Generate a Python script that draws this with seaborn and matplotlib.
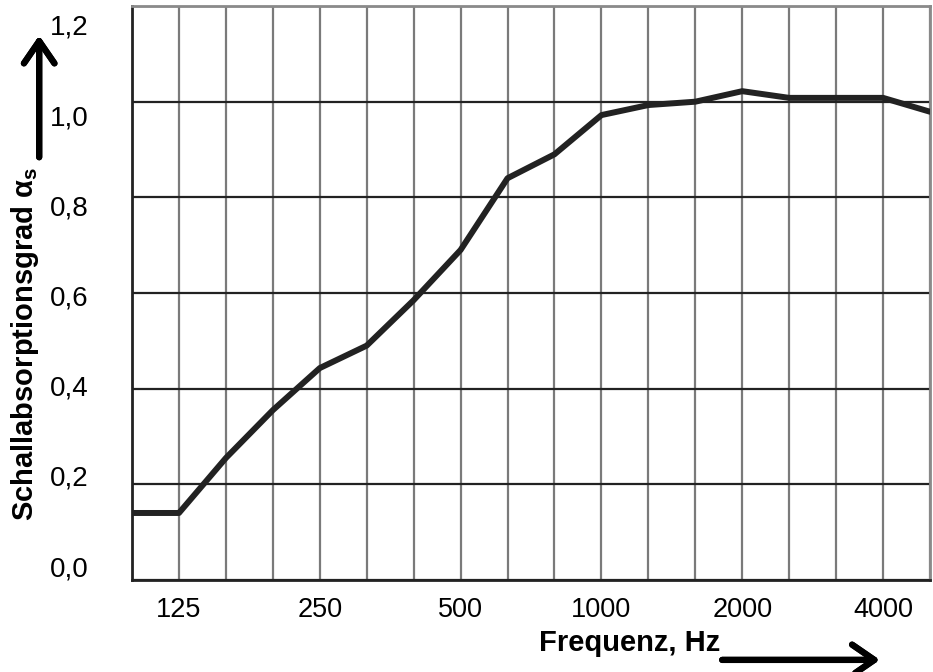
#Schallabsorptionsgrad ueber Terzband-Frequenz
import numpy as np
import pandas as pd
from matplotlib import pyplot as plt
import seaborn as sns

#terzbaender 100 .. 5000 Hz
bands = [100, 125, 160, 200, 250, 315, 400, 500, 630, 800,
         1000, 1250, 1600, 2000, 2500, 3150, 4000, 5000]
alpha = [0.14, 0.14, 0.255, 0.355, 0.443, 0.49, 0.585, 0.69, 0.84, 0.89,
         0.972, 0.993, 1.0, 1.022, 1.008, 1.008, 1.008, 0.979]
tick_freqs = [125, 250, 500, 1000, 2000, 4000]
ytick_labels = ["0,0", "0,2", "0,4", "0,6", "0,8", "1,0", "1,2"]

df = pd.DataFrame({'pos': np.arange(len(bands)), 'freq': bands, 'alpha': alpha})

sns.set_style("white")
plt.rcParams['font.family'] = ['Liberation Sans', 'DejaVu Sans']
plt.rcParams['mathtext.fontset'] = 'custom'
plt.rcParams['mathtext.bf'] = 'Liberation Sans:bold'
plt.rcParams['text.color'] = 'black'
plt.rcParams['xtick.color'] = 'black'
plt.rcParams['ytick.color'] = 'black'

fig = plt.figure(figsize=(9.33, 6.72), dpi=100)
ax = fig.add_axes([0.1415, 0.137, 0.8553, 0.854])

sns.lineplot(data=df, x='pos', y='alpha', color='#222222', linewidth=4.3, ax=ax, zorder=5)

#grid: vertical lines at every band, horizontal every 0.2
ax.set_xlim(0, len(bands) - 1)
ax.set_ylim(0, 1.2)
ax.set_xticks(df['pos'], minor=True)
ax.set_yticks(np.arange(0, 1.21, 0.2), minor=True)
ax.set_xticks([bands.index(f) for f in tick_freqs])
ax.set_xticklabels([str(f) for f in tick_freqs], fontsize=19.5)
ax.grid(which='both', axis='x', color='#7a7a7a', linewidth=1.6)
ax.grid(which='minor', axis='y', color='#222222', linewidth=1.6)
ax.set_axisbelow(True)

#y labels sit a bit squeezed in the original
label_pos = [0.029 + 0.943 * v for v in np.arange(0, 1.21, 0.2)]
ax.set_yticks(label_pos)
ax.set_yticklabels(ytick_labels, fontsize=20)
ax.tick_params(which='both', length=0)
ax.tick_params(axis='x', pad=12)
ax.tick_params(axis='y', pad=31)

for side in ['left', 'bottom']:
    ax.spines[side].set_color('#222222')
    ax.spines[side].set_linewidth(2)
for side in ['top', 'right']:
    ax.spines[side].set_color('#8a8a8a')
    ax.spines[side].set_linewidth(2)

ax.set(xlabel='', ylabel='')
fig.text(0.675, 0.043, 'Frequenz, Hz', fontsize=21, fontweight='bold',
         ha='center', va='center')
fig.text(0.027, 0.488, r'Schallabsorptionsgrad α$_\mathbf{s}$', fontsize=21,
         fontweight='bold', rotation=90, ha='center', va='center')

#arrows next to the axis labels
arrow = dict(arrowstyle='->, head_width=0.55, head_length=0.8', color='black',
             linewidth=4.5, mutation_scale=20, shrinkA=0, shrinkB=0)
fig.add_artist(plt.annotate('', xy=(0.943, 0.018), xytext=(0.774, 0.018),
                            xycoords='figure fraction', arrowprops=arrow))
fig.add_artist(plt.annotate('', xy=(0.042, 0.947), xytext=(0.042, 0.766),
                            xycoords='figure fraction', arrowprops=arrow))

fig.savefig('out.png', dpi=100)
